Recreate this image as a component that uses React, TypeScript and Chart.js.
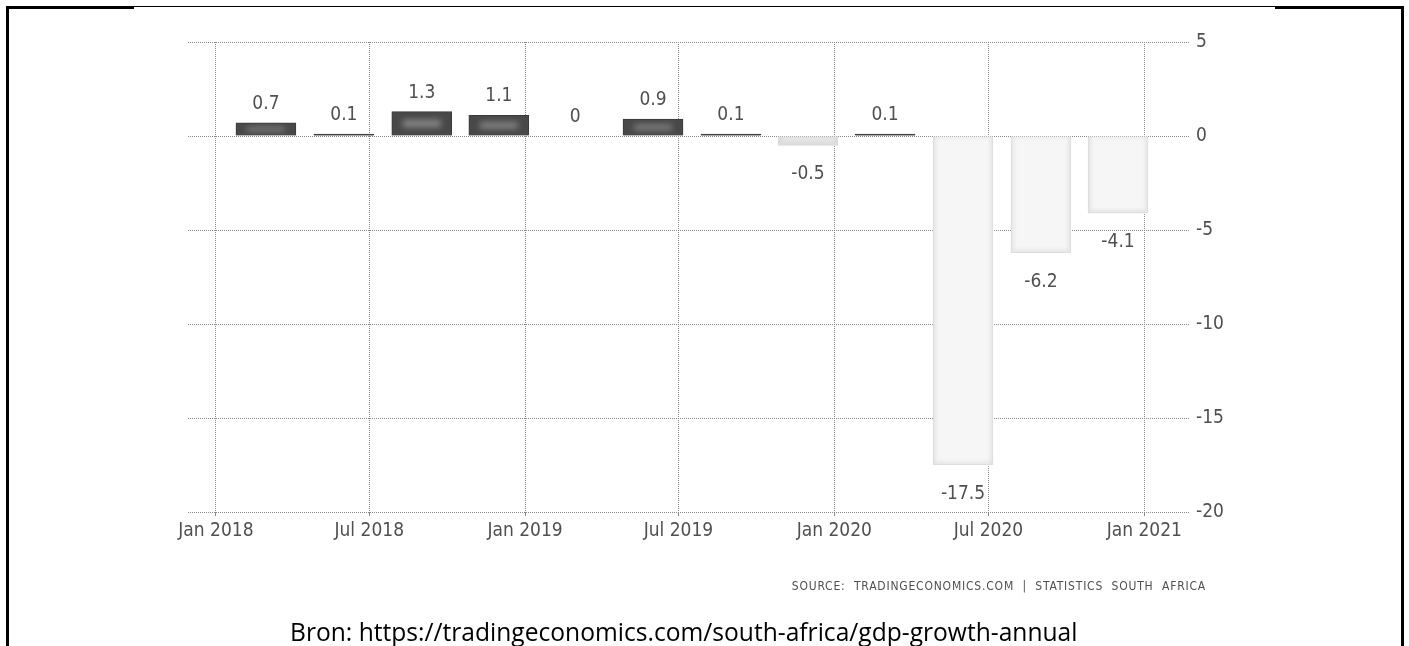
import React, { useEffect, useRef } from "react";
import { Chart, registerables } from "chart.js";

Chart.register(...registerables);

// ---- data ----
const quarterDates = [
  "2018-03-01", "2018-06-01", "2018-09-01", "2018-12-01",
  "2019-03-01", "2019-06-01", "2019-09-01", "2019-12-01",
  "2020-03-01", "2020-06-01", "2020-09-01", "2020-12-01",
];
const gdpGrowth = [0.7, 0.1, 1.3, 1.1, 0, 0.9, 0.1, -0.5, 0.1, -17.5, -6.2, -4.1];
const tickDates = ["2018-01-01", "2018-07-01", "2019-01-01", "2019-07-01", "2020-01-01", "2020-07-01", "2021-01-01"];
const tickLabels = ["Jan 2018", "Jul 2018", "Jan 2019", "Jul 2019", "Jan 2020", "Jul 2020", "Jan 2021"];
const rangeStart = "2017-11-29";
const rangeEnd = "2021-02-24";
const yMin = -20;
const yMax = 5;
const yStep = 5;
const sourceText = "SOURCE:  TRADINGECONOMICS.COM  |  STATISTICS  SOUTH  AFRICA";
const captionText = "Bron: https://tradingeconomics.com/south-africa/gdp-growth-annual";

const DAY = 86400000;
const ORIGIN = Date.UTC(2018, 0, 1);
const dayOf = (s: string) => {
  const [y, m, d] = s.split("-").map(Number);
  return (Date.UTC(y, m - 1, d) - ORIGIN) / DAY;
};

const FONT = '"DejaVu Sans Condensed", "DejaVu Sans", sans-serif';
const FSIZE = 19;
const TEXT = "#505050";
const GRID = "#8a8a8a";

const barGlow = {
  id: "barGlow",
  afterDatasetsDraw(chart: any) {
    const ctx = chart.ctx;
    const meta = chart.getDatasetMeta(0);
    meta.data.forEach((el: any, i: number) => {
      const v = gdpGrowth[i];
      const p = el.getProps(["x", "y", "base", "width"], true);
      const top = Math.min(p.y, p.base);
      const h = Math.abs(p.base - p.y);
      const left = p.x - p.width / 2;
      if (v > 0 && h > 8) {
        ctx.save();
        ctx.beginPath();
        ctx.rect(left + 1, top + 1, p.width - 2, h - 2);
        ctx.clip();
        ctx.filter = "blur(3px)";
        ctx.fillStyle = "rgba(150,150,150,0.85)";
        const bh = Math.max(3, h * 0.3);
        ctx.fillRect(left + 11, top + h / 2 - bh / 2, p.width - 22, bh);
        ctx.restore();
      }
      if (v < 0 && h > 4) {
        ctx.save();
        ctx.beginPath();
        ctx.rect(left, top, p.width, h);
        ctx.clip();
        ctx.filter = "blur(2px)";
        ctx.strokeStyle = "rgba(200,200,200,0.6)";
        ctx.lineWidth = 3;
        ctx.strokeRect(left + 0.5, top - 2, p.width - 1, h + 1.5);
        ctx.restore();
      }
    });
  },
};

const valueLabels = {
  id: "valueLabels",
  afterDatasetsDraw(chart: any) {
    const ctx = chart.ctx;
    const meta = chart.getDatasetMeta(0);
    ctx.save();
    ctx.font = `${FSIZE}px ${FONT}`;
    ctx.fillStyle = TEXT;
    ctx.textAlign = "center";
    ctx.textBaseline = "alphabetic";
    meta.data.forEach((el: any, i: number) => {
      const v = gdpGrowth[i];
      const p = el.getProps(["x", "y"], true);
      const ty = v >= 0 ? p.y - 14 : p.y + 34;
      ctx.fillText(String(v), p.x, ty);
    });
    ctx.restore();
  },
};

export default function App() {
  const ref = useRef<HTMLCanvasElement | null>(null);

  useEffect(() => {
    if (!ref.current) return;
    const chart = new Chart(ref.current, {
      type: "bar",
      data: {
        datasets: [
          {
            data: quarterDates.map((d, i) => ({ x: dayOf(d), y: gdpGrowth[i] })),
            backgroundColor: gdpGrowth.map((v) => (v >= 0 ? "#484848" : v > -1 ? "#e6e6e6" : "#f6f6f6")),
            borderColor: gdpGrowth.map((v) => (v >= 0 ? "#3a3a3a" : "#e2e2e2")),
            borderWidth: 1,
            barThickness: 60,
          },
        ],
      },
      options: {
        animation: false,
        responsive: false,
        maintainAspectRatio: false,
        layout: { padding: { left: 188, top: 42, right: 179, bottom: 94 } },
        plugins: {
          legend: { display: false },
          tooltip: { enabled: false },
          title: { display: false },
        },
        scales: {
          x: {
            type: "linear",
            min: dayOf(rangeStart),
            max: dayOf(rangeEnd),
            offset: false,
            afterBuildTicks: (scale: any) => {
              scale.ticks = tickDates.map((d) => ({ value: dayOf(d) }));
            },
            afterFit: (scale: any) => {
              scale.height = 40;
            },
            ticks: {
              autoSkip: false,
              maxRotation: 0,
              padding: 4,
              color: TEXT,
              font: { family: FONT, size: FSIZE },
              callback: (_v: any, i: number) => tickLabels[i],
            },
            grid: {
              offset: false,
              color: GRID,
              lineWidth: 1,
              drawTicks: true,
              tickLength: 4,
              tickColor: GRID,
            },
            border: { display: false, dash: [1, 1] },
          },
          y: {
            position: "right",
            min: yMin,
            max: yMax,
            afterFit: (scale: any) => {
              scale.width = 40;
            },
            ticks: {
              stepSize: yStep,
              padding: 6,
              color: TEXT,
              font: { family: FONT, size: FSIZE },
            },
            grid: {
              color: GRID,
              lineWidth: 1,
              drawTicks: false,
            },
            border: { display: false, dash: [1, 1] },
          },
        },
      },
      plugins: [barGlow, valueLabels],
    } as any);
    return () => chart.destroy();
  }, []);

  return (
    <div style={{ position: "absolute", left: 0, top: 0, width: 1409, height: 646, background: "#fff", overflow: "hidden" }}>
      {/* table borders */}
      <div style={{ position: "absolute", left: 6, top: 6, width: 1398, height: 1, background: "#000" }} />
      <div style={{ position: "absolute", left: 6, top: 6, width: 128, height: 3, background: "#000" }} />
      <div style={{ position: "absolute", left: 1275, top: 6, width: 129, height: 3, background: "#000" }} />
      <div style={{ position: "absolute", left: 6, top: 6, width: 3, height: 640, background: "#000" }} />
      <div style={{ position: "absolute", left: 1401, top: 6, width: 3, height: 640, background: "#000" }} />
      <canvas ref={ref} width={1409} height={646} style={{ position: "absolute", left: 0, top: 0, width: 1409, height: 646 }} />
      <div
        style={{
          position: "absolute",
          left: 0,
          top: 579,
          width: 1206,
          textAlign: "right",
          font: `12px ${FONT}`,
          letterSpacing: "0.8px",
          color: TEXT,
          whiteSpace: "pre",
        }}
      >
        {sourceText}
      </div>
      <div
        style={{
          position: "absolute",
          left: 290,
          top: 615,
          textAlign: "left",
          font: '24.6px "Open Sans", sans-serif',
          color: "#000",
          whiteSpace: "pre",
        }}
      >
        {captionText}
      </div>
    </div>
  );
}
